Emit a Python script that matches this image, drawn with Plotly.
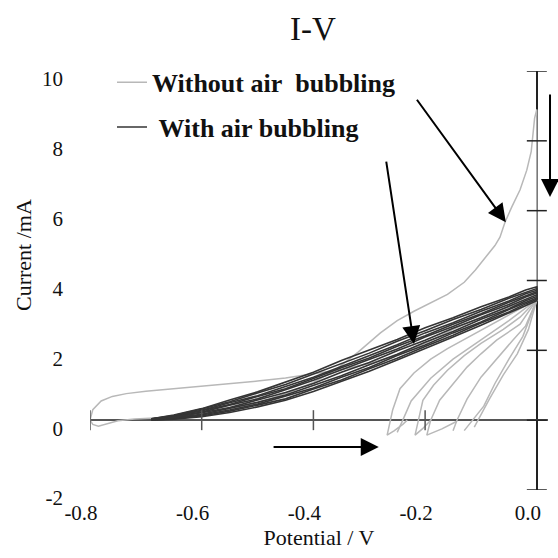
import plotly.graph_objects as go

# ---------------- data ----------------
# Without air bubbling: outer loop (upper branch from 0 V back to -0.8 V)
OUTER_UP_X = [0.0, -0.05, -0.1, -0.15, -0.2, -0.25, -0.3, -0.35, -0.4, -0.45, -0.5, -0.55,
              -0.6, -0.65, -0.7, -0.735, -0.76, -0.78, -0.795, -0.8]
OUTER_UP_Y = [3.47, 3.25, 2.95, 2.6, 2.2, 1.87, 1.62, 1.45, 1.33, 1.21, 1.12, 1.05,
              0.97, 0.9, 0.83, 0.76, 0.68, 0.55, 0.3, 0.0]
# Without air bubbling: forward branch from -0.8 V up to the 9 mA spike at 0 V
OUTER_FWD_X = [-0.795, -0.785, -0.77, -0.75, -0.72, -0.68, -0.64, -0.6, -0.56, -0.52, -0.48,
               -0.44, -0.4, -0.36, -0.32, -0.28, -0.25, -0.22, -0.19, -0.16, -0.13, -0.11,
               -0.09, -0.075, -0.066, -0.057, -0.045, -0.03, -0.018, -0.01, -0.004, 0.0, 0.0]
OUTER_FWD_Y = [-0.12, -0.17, -0.1, -0.02, 0.03, 0.06, 0.1, 0.17, 0.28, 0.42, 0.6,
               0.82, 1.08, 1.45, 1.95, 2.5, 2.85, 3.12, 3.35, 3.6, 3.95, 4.3,
               4.7, 5.0, 5.24, 5.67, 6.1, 6.6, 7.16, 7.7, 8.65, 8.9, 3.5]
# Without air bubbling: the fan of shorter scans
FAN_X = [
    [0.0, -0.04, -0.08, -0.125, -0.16, -0.19, -0.22, -0.245, -0.258, -0.268, -0.255, -0.24, -0.232],
    [0.0, -0.05, -0.1, -0.15, -0.19, -0.225, -0.24, -0.25],
    [0.0, -0.03, -0.06, -0.1, -0.13, -0.16, -0.185, -0.204, -0.212, -0.218, -0.205, -0.19],
    [0.0, -0.03, -0.072, -0.1, -0.125, -0.15, -0.174, -0.19, -0.197, -0.17, -0.143],
    [0.0, -0.02, -0.043, -0.07, -0.1, -0.125, -0.143, -0.15],
    [0.0, -0.025, -0.05, -0.075, -0.095, -0.12, -0.13],
    [0.0, -0.015, -0.035, -0.06, -0.085, -0.105, -0.112],
]
FAN_Y = [
    [3.45, 3.1, 2.75, 2.38, 2.05, 1.75, 1.35, 0.9, 0.3, -0.43, -0.3, -0.12, 0.0],
    [3.45, 2.85, 2.3, 1.75, 1.2, 0.55, 0.0, -0.35],
    [3.45, 2.95, 2.6, 2.2, 1.85, 1.43, 1.0, 0.57, 0.0, -0.43, -0.25, 0.0],
    [3.45, 2.75, 2.29, 1.9, 1.52, 1.05, 0.57, 0.0, -0.43, -0.25, -0.03],
    [3.45, 2.7, 2.29, 1.8, 1.23, 0.6, 0.0, -0.3],
    [3.45, 2.4, 1.75, 1.05, 0.4, -0.1, -0.3],
    [3.45, 2.6, 1.9, 1.3, 0.6, 0.0, -0.2],
]

# With air bubbling: repeated cycles (forward and reverse branches)
DARK_X = [-0.69, -0.65, -0.6, -0.55, -0.5, -0.45, -0.4, -0.35, -0.3, -0.25, -0.2, -0.15,
          -0.1, -0.05, -0.02, 0.0]
DARK_FWD = [
    [0.00, 0.03, 0.10, 0.22, 0.38, 0.57, 0.82, 1.10, 1.40, 1.72, 2.04, 2.38, 2.72, 3.06, 3.28, 3.42],
    [0.00, 0.04, 0.12, 0.26, 0.43, 0.61, 0.89, 1.15, 1.47, 1.77, 2.11, 2.43, 2.78, 3.10, 3.33, 3.46],
    [0.01, 0.05, 0.15, 0.29, 0.46, 0.68, 0.92, 1.23, 1.51, 1.85, 2.15, 2.50, 2.81, 3.17, 3.36, 3.50],
    [0.01, 0.07, 0.17, 0.34, 0.51, 0.72, 1.00, 1.27, 1.59, 1.89, 2.23, 2.54, 2.89, 3.19, 3.42, 3.54],
    [0.02, 0.08, 0.21, 0.36, 0.58, 0.79, 1.05, 1.37, 1.65, 1.99, 2.29, 2.63, 2.93, 3.27, 3.46, 3.59],
]
DARK_REV = [
    [0.02, 0.10, 0.23, 0.43, 0.61, 0.87, 1.14, 1.42, 1.74, 2.04, 2.38, 2.68, 3.02, 3.31, 3.53, 3.64],
    [0.03, 0.11, 0.27, 0.45, 0.68, 0.90, 1.19, 1.50, 1.78, 2.12, 2.42, 2.75, 3.05, 3.38, 3.56, 3.68],
    [0.03, 0.12, 0.28, 0.50, 0.70, 0.97, 1.23, 1.54, 1.86, 2.16, 2.50, 2.79, 3.12, 3.41, 3.62, 3.72],
    [0.04, 0.13, 0.32, 0.53, 0.78, 1.02, 1.32, 1.62, 1.92, 2.26, 2.56, 2.88, 3.17, 3.49, 3.66, 3.77],
    [0.04, 0.15, 0.33, 0.58, 0.81, 1.10, 1.37, 1.71, 2.01, 2.31, 2.65, 2.93, 3.25, 3.53, 3.73, 3.82],
]

X_TICKS = [-0.8, -0.6, -0.4, -0.2, 0.0]
X_TICK_TEXT = ["-0.8", "-0.6", "-0.4", "-0.2", "0.0"]
Y_TICKS = [-2, 0, 2, 4, 6, 8, 10]
Y_TICK_TEXT = ["-2", "0", "2", "4", "6", "8", "10"]

NAME_WITHOUT = "Without air\u00a0\u00a0bubbling"
NAME_WITH = "\u00a0With air bubbling"

# ---------------- figure ----------------
GRAY = "#b8b8b8"
DARK = "#353535"
SERIF = "Liberation Serif"

fig = go.Figure()

fig.add_trace(go.Scatter(
    x=OUTER_UP_X + OUTER_FWD_X, y=OUTER_UP_Y + OUTER_FWD_Y, mode="lines",
    line=dict(color=GRAY, width=1.5), name=NAME_WITHOUT, legendgroup="without",
    showlegend=True))
for fx, fy in zip(FAN_X, FAN_Y):
    fig.add_trace(go.Scatter(x=fx, y=fy, mode="lines", line=dict(color=GRAY, width=1.5),
                             legendgroup="without", showlegend=False, name=NAME_WITHOUT))

for i, (fwd, rev) in enumerate(zip(DARK_FWD, DARK_REV)):
    fig.add_trace(go.Scatter(
        x=DARK_X + DARK_X[::-1], y=fwd + rev[::-1], mode="lines",
        line=dict(color=DARK, width=1.6), name=NAME_WITH, legendgroup="with",
        showlegend=(i == 0)))

# crossing tick marks on the axes that pass through the origin
shapes = []
for v in X_TICKS[:-1]:
    shapes.append(dict(type="line", xref="x", yref="y", x0=v, x1=v, ysizemode="pixel",
                       yanchor=0, y0=-10, y1=10, line=dict(color="#555555", width=1.5)))
for v in Y_TICKS:
    shapes.append(dict(type="line", xref="x", yref="y", y0=v, y1=v, xsizemode="pixel",
                       xanchor=0, x0=-10, x1=10, line=dict(color="#222222", width=1.5)))

arrow = dict(showarrow=True, text="", arrowhead=2, arrowsize=1.8, arrowwidth=2,
             arrowcolor="black", standoff=0, startstandoff=0)
annotations = [
    dict(x=-0.0555, y=5.67, ax=-0.2166, ay=9.22, xref="x", yref="y", axref="x", ayref="y", **arrow),
    dict(x=-0.220, y=2.18, ax=-0.270, ay=7.45, xref="x", yref="y", axref="x", ayref="y", **arrow),
    dict(x=-0.283, y=-0.77, ax=-0.474, ay=-0.77, xref="x", yref="y", axref="x", ayref="y", **arrow),
    dict(x=1.0044, y=0.699, ax=0, ay=-104, xref="paper", yref="paper", **arrow),
    dict(text="Current /mA", textangle=-90, x=-0.144, y=0.561, xref="paper", yref="paper",
         showarrow=False, font=dict(family=SERIF, size=22, color="#111111"),
         xanchor="center", yanchor="middle"),
]

fig.update_layout(
    template="none",
    width=558, height=558,
    margin=dict(l=90, r=10, t=71, b=68, pad=0, autoexpand=False),
    paper_bgcolor="white", plot_bgcolor="white",
    font=dict(family=SERIF, size=21, color="#111111"),
    title=dict(text="I-V", x=313 / 558, xanchor="center", y=1 - 28 / 558, yanchor="middle",
               font=dict(family=SERIF, size=33, color="#111111")),
    xaxis=dict(range=[-0.8, 0.02], tickmode="array", tickvals=X_TICKS, ticktext=X_TICK_TEXT,
               tickfont=dict(family=SERIF, size=21), automargin=False,
               showgrid=False, showline=False, ticks="", zeroline=True,
               zerolinecolor="#222222", zerolinewidth=1.5,
               ticklabelstandoff=8, ticklabelshift=-9,
               title=dict(text="Potential / V", font=dict(family=SERIF, size=22), standoff=0)),
    yaxis=dict(range=[-2, 10], tickmode="array", tickvals=Y_TICKS, ticktext=Y_TICK_TEXT,
               tickfont=dict(family=SERIF, size=21), automargin=False,
               showgrid=False, showline=False, ticks="", zeroline=True,
               zerolinecolor="#555555", zerolinewidth=2,
               ticklabelstandoff=26, ticklabelshift=8),
    legend=dict(x=(112 - 90) / 458, xanchor="left", y=1.029, yanchor="top",
                font=dict(family=SERIF, size=26, weight="bold", color="#111111"),
                bgcolor="rgba(0,0,0,0)", borderwidth=0, traceorder="grouped",
                tracegroupgap=8, itemwidth=30),
    shapes=shapes,
    annotations=annotations,
    showlegend=True,
)

fig.write_html("out.html", config={"displayModeBar": False},
               post_script="document.body.style.margin='0';document.body.style.padding='0';")
